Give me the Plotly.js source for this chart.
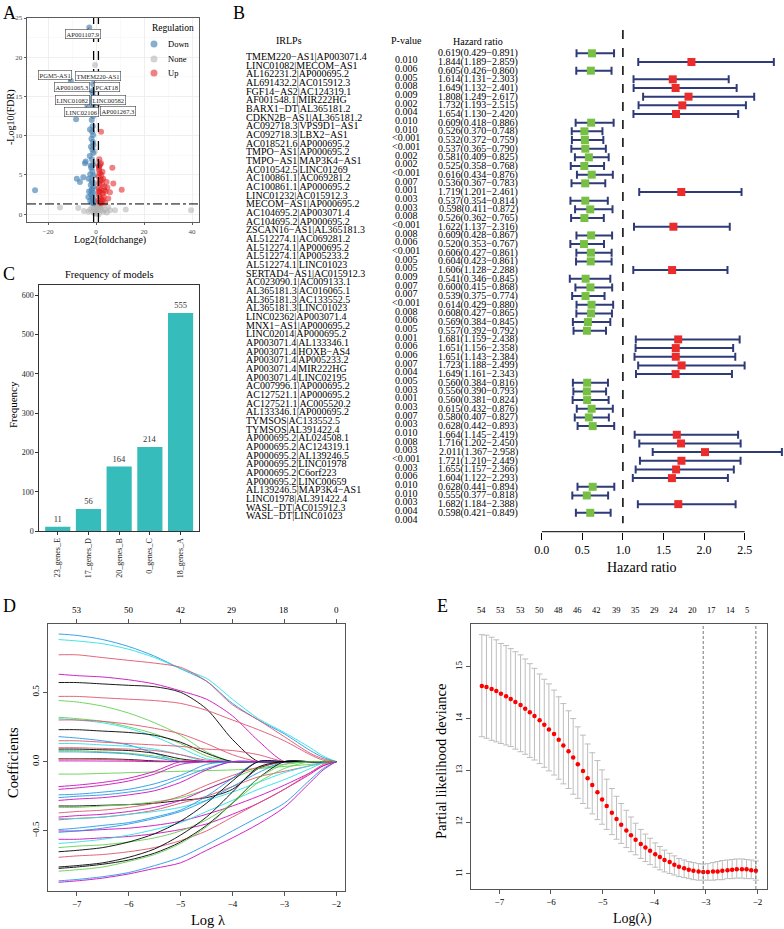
<!DOCTYPE html>
<html><head><meta charset="utf-8">
<script src="https://cdn.plot.ly/plotly-3.0.1.min.js"></script>
<style>html,body{margin:0;padding:0;background:#fff}#chart{width:784px;height:929px}</style>
</head><body><div id="chart"></div>
<script>
// ================= DATA =================
// A: volcano plot (Log2 fold change vs -Log10 FDR)
const downX = [-2.8,-10.5,-1.25,-1.5,-1.2,-1.6,-1.3,-1.3,-3.6,-8.3,-1.1,-1.4,-1.2,-1.8,-2.5,-1.4,-1.2,-1.9,-1.3,-2.1,-1.5,-1.2,-2.6,-1.7,-4.3,-4.6,-1.3,-2.0,-1.5,-2.4,-1.2,-8.0,-5.3,-6.7,-3.1,-1.8,-1.4,-2.2,-1.1,-25.4,-1.6,-2.9,-1.3,-2.0,-3.2,-1.5,-1.2,-2.4,-1.7,-1.1,-1.3,-2.2,-1.6,-1.1,-1.9];
const downY = [23.8,17.0,16.6,15.5,15.8,14.4,14.8,14.0,13.8,12.1,15.0,13.2,12.5,12.0,10.8,11.2,10.1,9.6,9.2,8.6,8.2,7.8,7.4,7.0,6.7,6.5,6.3,5.9,5.5,5.1,4.9,4.5,4.7,4.1,4.5,4.3,4.0,3.7,3.5,3.06,3.2,2.9,2.7,2.5,2.2,2.2,1.9,1.7,1.5,1.4,13.6,6.2,10.5,8.8,3.0];
const upX = [2.1,2.1,6.8,10.7,4.4,7.2,5.8,5.1,1.3,1.6,2.2,1.1,3.0,1.8,1.4,2.5,3.5,1.2,2.0,4.0,1.6,2.8,1.3,3.2,1.9,1.1,2.4,1.5,3.8,2.1,1.2,1.3,2.7,1.7,3.3,1.4,2.3,4.7,1.2,2.9];
const upY = [10.5,6.5,5.9,3.1,4.1,3.9,2.8,2.0,5.6,5.2,5.0,4.8,4.5,4.3,3.9,3.8,3.5,3.3,3.1,2.9,2.8,2.6,2.4,2.2,2.0,1.8,1.7,1.5,1.5,1.4,6.1,5.9,5.4,6.3,3.0,7.0,4.4,3.4,2.9,1.8];
const noneX = [-0.4,-15.0,-7.4,7.9,12.4,39.6,-0.5,0.3,-0.8,0.6,-0.2,0.1,-1.5,1.4,2.2,-2.4,3.0,-3.1,0.8,-0.7,4.5,-1.1,1.8,-0.3,0.4,-0.6,0.5,0.2,-0.5,0.7,-0.9,5.8,5.0,-5.0,1.1,-0.1,2.7,3.6];
const noneY = [19.0,0.85,0.8,0.5,0.6,0.5,1.2,1.0,0.8,0.6,0.4,0.2,0.9,0.7,0.5,0.6,0.3,0.3,1.1,0.1,0.2,0.3,1.0,2.5,3.2,5.0,4.0,6.5,8.0,1.5,1.6,0.5,0.9,0.4,0.0,0.05,1.1,0.6];
const labelGenes = ['AP001107.9','PGM5-AS1','TMEM220-AS1','AP001065.3','PCAT18','LINC01082','LINC00582','AP001267.3','LINC02106'];
const labelGeneX = [-2.8,-10.5,-1.25,-1.5,-1.2,-1.6,-1.3,-1.3,-3.6];
const labelGeneY = [23.8,17.0,16.6,15.5,15.8,14.4,14.8,14.0,13.8];
const fcCutoff = 1;
const fdrCutoff = 0.05;

// B: forest plot of IRLPs
const irlps = ['TMEM220−AS1|AP003071.4','LINC01082|MECOM−AS1','AL162231.2|AP000695.2','AL691432.2|AC015912.3','FGF14−AS2|AC124319.1','AF001548.1|MIR222HG','BARX1−DT|AL365181.2','CDKN2B−AS1|AL365181.2','AC092718.3|VPS9D1−AS1','AC092718.3|LBX2−AS1','AC018521.6|AP000695.2','TMPO−AS1|AP000695.2','TMPO−AS1|MAP3K4−AS1','AC010542.5|LINC01269','AC100861.1|AC069281.2','AC100861.1|AP000695.2','LINC01232|AC015912.3','MECOM−AS1|AP000695.2','AC104695.2|AP003071.4','AC104695.2|AP000695.2','ZSCAN16−AS1|AL365181.3','AL512274.1|AC069281.2','AL512274.1|AP000695.2','AL512274.1|AP005233.2','AL512274.1|LINC01023','SERTAD4−AS1|AC015912.3','AC023090.1|AC009133.1','AL365181.3|AC016065.1','AL365181.3|AC133552.5','AL365181.3|LINC01023','LINC02362|AP003071.4','MNX1−AS1|AP000695.2','LINC02014|AP000695.2','AP003071.4|AL133346.1','AP003071.4|HOXB−AS4','AP003071.4|AP005233.2','AP003071.4|MIR222HG','AP003071.4|LINC02195','AC007996.1|AP000695.2','AC127521.1|AP000695.2','AC127521.1|AC005520.2','AL133346.1|AP000695.2','TYMSOS|AC133552.5','TYMSOS|AL391422.4','AP000695.2|AL024508.1','AP000695.2|AC124319.1','AP000695.2|AL139246.5','AP000695.2|LINC01978','AP000695.2|C6orf223','AP000695.2|LINC00659','AL139246.5|MAP3K4−AS1','LINC01978|AL391422.4','WASL−DT|AC015912.3','WASL−DT|LINC01023'];
const pValues = ['0.010','0.006','0.005','0.008','0.009','0.002','0.004','0.010','0.010','<0.001','<0.001','0.002','0.002','<0.001','0.007','0.001','0.003','0.003','0.008','<0.001','0.008','0.006','<0.001','0.005','0.005','0.009','0.007','0.007','<0.001','0.008','0.006','0.005','0.001','0.006','0.006','0.007','0.004','0.005','0.003','0.001','0.003','0.007','0.003','0.010','0.008','0.003','<0.001','0.003','0.006','0.010','0.010','0.003','0.004','0.004'];
const hr = [0.619,1.844,0.605,1.614,1.649,1.808,1.732,1.654,0.609,0.526,0.532,0.537,0.581,0.525,0.616,0.536,1.719,0.537,0.598,0.526,1.622,0.609,0.520,0.606,0.604,1.606,0.541,0.600,0.539,0.614,0.608,0.569,0.557,1.681,1.651,1.651,1.723,1.649,0.560,0.556,0.560,0.615,0.580,0.628,1.664,1.716,2.011,1.721,1.655,1.604,0.628,0.555,1.682,0.598];
const hrLow = [0.429,1.189,0.426,1.131,1.132,1.249,1.193,1.130,0.418,0.370,0.372,0.365,0.409,0.358,0.434,0.367,1.201,0.354,0.411,0.362,1.137,0.428,0.353,0.427,0.423,1.128,0.346,0.415,0.375,0.429,0.427,0.384,0.392,1.159,1.156,1.143,1.188,1.161,0.384,0.390,0.381,0.432,0.407,0.442,1.145,1.202,1.367,1.210,1.157,1.122,0.441,0.377,1.184,0.421];
const hrHigh = [0.891,2.859,0.860,2.303,2.401,2.617,2.515,2.420,0.886,0.748,0.759,0.790,0.825,0.768,0.876,0.783,2.461,0.814,0.872,0.765,2.316,0.867,0.767,0.861,0.861,2.288,0.845,0.868,0.774,0.880,0.865,0.845,0.792,2.438,2.358,2.384,2.499,2.343,0.816,0.793,0.824,0.876,0.827,0.893,2.419,2.450,2.958,2.449,2.366,2.293,0.894,0.818,2.388,0.849];

// C: frequency of models
const models = ['23_genes_E','17_genes_D','20_genes_B','0_genes_C','18_genes_A'];
const modelFreq = [11,56,164,214,555];

// D: LASSO coefficient paths
const coefLogLambda = [-7.35,-7,-6.5,-6,-5.5,-5,-4.5,-4,-3.5,-3,-2.5,-2.25,-2];
const coefPaths = [
 [0.92,0.91,0.88,0.83,0.76,0.67,0.58,0.42,0.30,0.20,0.08,0.03,0],
 [0.88,0.87,0.85,0.81,0.75,0.67,0.60,0.45,0.31,0.21,0.10,0.04,0],
 [0.77,0.77,0.75,0.73,0.71,0.68,0.58,0.41,0.30,0.18,0.06,0.02,0],
 [0.63,0.62,0.61,0.59,0.56,0.51,0.45,0.33,0.15,0,0,0,0],
 [0.57,0.57,0.56,0.55,0.54,0.50,0.38,0.16,0,0,0,0,0],
 [0.47,0.47,0.46,0.45,0.44,0.42,0.37,0.30,0.23,0.15,0.05,0.01,0],
 [0.44,0.43,0.40,0.35,0.28,0.19,0.07,0,0,0,0,0,0],
 [0.32,0.31,0.29,0.25,0.20,0.13,0.04,0,0,0,0,0,0],
 [0.31,0.30,0.28,0.24,0.18,0.10,0.02,0,0,0,0,0,0],
 [0.30,0.30,0.29,0.27,0.24,0.20,0.13,0.05,0,0,0,0,0],
 [0.23,0.23,0.22,0.21,0.19,0.14,0.06,0,0,0,0,0,0],
 [0.18,0.17,0.15,0.12,0.06,0,0,0,0,0,0,0,0],
 [0.15,0.15,0.14,0.13,0.12,0.11,0.09,0.08,0.05,0,0,0,0],
 [0.13,0.13,0.12,0.11,0.09,0.05,0,0,0,0,0,0,0],
 [0.10,0.10,0.095,0.09,0.08,0.05,0.01,0,0,0,0,0,0],
 [0.09,0.09,0.085,0.08,0.06,0.02,0,0,0,0,0,0,0],
 [0.08,0.08,0.07,0.06,0.04,0.01,0,0,0,0,0,0,0],
 [0.07,0.07,0.065,0.055,0.03,0,0,0,0,0,0,0,0],
 [0.02,0.02,0.02,0.015,0.005,0,0,0,0,0,0,0,0],
 [0.02,0.02,0.015,0.01,0,0,0,0,0,0,0,0,0],
 [0.005,0.005,0.004,0.003,0,0,0,0,0,0,0,0,0],
 [-0.09,-0.09,-0.085,-0.08,-0.075,-0.07,-0.065,-0.06,-0.05,-0.035,-0.02,-0.01,0],
 [-0.18,-0.17,-0.15,-0.12,-0.07,0,0,0,0,0,0,0,0],
 [-0.20,-0.19,-0.17,-0.14,-0.09,-0.02,0,0,0,0,0,0,0],
 [-0.24,-0.235,-0.22,-0.20,-0.16,-0.10,-0.02,0,0,0,0,0,0],
 [-0.26,-0.25,-0.24,-0.22,-0.19,-0.12,-0.05,0,0,0,0,0,0],
 [-0.28,-0.27,-0.26,-0.24,-0.21,-0.15,-0.06,0,0,0,0,0,0],
 [-0.32,-0.32,-0.315,-0.31,-0.30,-0.28,-0.26,-0.20,-0.05,0,0,0,0],
 [-0.33,-0.33,-0.32,-0.31,-0.29,-0.26,-0.20,-0.12,-0.05,-0.02,0,0,0],
 [-0.37,-0.36,-0.35,-0.33,-0.30,-0.25,-0.17,-0.10,-0.04,0,0,0,0],
 [-0.40,-0.39,-0.38,-0.36,-0.33,-0.28,-0.20,-0.12,0,0,0,0,0],
 [-0.42,-0.41,-0.40,-0.38,-0.35,-0.30,-0.25,-0.18,-0.11,-0.07,-0.03,-0.01,0],
 [-0.41,-0.41,-0.40,-0.38,-0.36,-0.33,-0.28,-0.22,-0.15,-0.08,-0.03,-0.01,0],
 [-0.49,-0.48,-0.46,-0.44,-0.40,-0.35,-0.25,-0.12,0,0,0,0,0],
 [-0.50,-0.50,-0.49,-0.48,-0.46,-0.43,-0.38,-0.32,-0.25,-0.17,-0.08,-0.03,0],
 [-0.51,-0.50,-0.48,-0.45,-0.41,-0.36,-0.28,-0.18,-0.08,0,0,0,0],
 [-0.56,-0.56,-0.55,-0.54,-0.52,-0.49,-0.45,-0.38,-0.30,-0.20,-0.09,-0.03,0],
 [-0.59,-0.58,-0.56,-0.53,-0.49,-0.44,-0.36,-0.28,-0.20,-0.13,-0.05,-0.01,0],
 [-0.62,-0.61,-0.60,-0.58,-0.55,-0.50,-0.42,-0.30,-0.15,-0.05,0,0,0],
 [-0.65,-0.64,-0.62,-0.58,-0.52,-0.43,-0.30,-0.14,0,0,0,0,0],
 [-0.69,-0.68,-0.67,-0.65,-0.62,-0.57,-0.50,-0.40,-0.30,-0.20,-0.08,-0.02,0],
 [-0.76,-0.75,-0.73,-0.69,-0.63,-0.53,-0.40,-0.22,-0.04,0,0,0,0],
 [-0.77,-0.76,-0.74,-0.71,-0.66,-0.58,-0.46,-0.30,-0.12,0,0,0,0],
 [-0.79,-0.78,-0.76,-0.72,-0.67,-0.59,-0.47,-0.30,-0.12,-0.02,0,0,0],
 [-0.86,-0.85,-0.83,-0.80,-0.75,-0.69,-0.60,-0.50,-0.40,-0.30,-0.13,-0.05,0],
 [-0.87,-0.86,-0.84,-0.81,-0.77,-0.73,-0.64,-0.55,-0.45,-0.33,-0.15,-0.06,0]
];
const dTopLambda = [-7,-6,-5,-4,-3,-2];
const dTopCount = ['53','50','42','29','18','0'];

// E: cross-validation curve
const cvLogLambda = [-7.34,-7.25,-7.15,-7.06,-6.97,-6.87,-6.78,-6.69,-6.59,-6.50,-6.41,-6.32,-6.22,-6.13,-6.04,-5.94,-5.85,-5.76,-5.66,-5.57,-5.48,-5.38,-5.29,-5.20,-5.10,-5.01,-4.92,-4.82,-4.73,-4.64,-4.54,-4.45,-4.36,-4.26,-4.17,-4.08,-3.98,-3.89,-3.80,-3.70,-3.61,-3.52,-3.42,-3.33,-3.24,-3.14,-3.05,-2.96,-2.86,-2.77,-2.68,-2.58,-2.49,-2.40,-2.30,-2.21,-2.12,-2.03];
const cvMean = [14.63,14.61,14.57,14.53,14.48,14.43,14.38,14.32,14.26,14.19,14.12,14.05,13.97,13.88,13.79,13.70,13.59,13.48,13.37,13.25,13.12,12.99,12.85,12.72,12.58,12.44,12.31,12.18,12.06,11.95,11.84,11.75,11.66,11.58,11.51,11.45,11.38,11.33,11.27,11.23,11.18,11.14,11.11,11.08,11.06,11.05,11.04,11.04,11.05,11.05,11.06,11.07,11.08,11.09,11.09,11.09,11.07,11.06];
const cvUpper = [15.62,15.61,15.57,15.52,15.45,15.41,15.35,15.29,15.23,15.15,15.06,14.97,14.86,14.76,14.67,14.55,14.42,14.29,14.15,14.00,13.84,13.68,13.51,13.34,13.19,13.01,12.83,12.65,12.50,12.36,12.23,12.10,11.98,11.86,11.77,11.69,11.60,11.53,11.46,11.40,11.35,11.30,11.27,11.24,11.22,11.20,11.19,11.20,11.22,11.24,11.26,11.27,11.28,11.29,11.29,11.28,11.27,11.25];
const cvLower = [13.65,13.62,13.58,13.55,13.52,13.49,13.46,13.41,13.36,13.31,13.25,13.20,13.13,13.06,12.99,12.91,12.83,12.74,12.65,12.54,12.46,12.36,12.27,12.16,12.05,11.96,11.86,11.76,11.67,11.59,11.51,11.43,11.37,11.30,11.24,11.18,11.13,11.08,11.04,11.01,10.98,10.95,10.93,10.91,10.89,10.88,10.88,10.88,10.88,10.89,10.89,10.91,10.91,10.92,10.92,10.91,10.91,10.88];
const eTopLambda = [-7.34,-6.97,-6.60,-6.23,-5.86,-5.49,-5.11,-4.74,-4.37,-4.00,-3.63,-3.25,-2.89,-2.52,-2.20];
const eTopCount = ['54','53','53','50','48','46','42','39','35','29','24','20','17','14','5'];
const logLambdaMin = -3.05;
const logLambda1se = -2.03;

// ================= STYLE / LAYOUT =================
const W = 784, H = 929;
const fx = v => v / W;
const fy = v => 1 - v / H;
const SERIF = 'Liberation Serif, Times New Roman, serif';
const C_DOWN = 'rgba(70,130,180,0.65)', C_UP = 'rgba(228,26,28,0.55)', C_NONE = 'rgba(175,175,175,0.55)';
const R_PAL = {k:'#000000', r:'#DF536B', g:'#61D04F', b:'#2297E6', c:'#28E2E5', m:'#CD0BBC'};
const pathColorKeys = ['b','c','r','m','k','r','g','g','c','r','k','b','r','c','r','k','g','b','k','r','m',
  'g','m','m','b','b','m','k','g','r','m','r','c','b','m','b','m','c','g','k','r','k','k','g','b','m'];

const traces = [];
// A
traces.push({type:'scatter', mode:'markers', x:noneX, y:noneY, xaxis:'x', yaxis:'y', name:'None',
  marker:{color:C_NONE, size:6, line:{width:0}}, hoverinfo:'skip'});
traces.push({type:'scatter', mode:'markers', x:downX, y:downY, xaxis:'x', yaxis:'y', name:'Down',
  marker:{color:C_DOWN, size:6, line:{width:0}}});
traces.push({type:'scatter', mode:'markers', x:upX, y:upY, xaxis:'x', yaxis:'y', name:'Up',
  marker:{color:C_UP, size:6, line:{width:0}}});
// C
traces.push({type:'bar', x:models, y:modelFreq, xaxis:'x2', yaxis:'y2', marker:{color:'#37BCBC'},
  text:modelFreq.map(String), textposition:'outside', textfont:{size:8.5, color:'#333', family:SERIF}, cliponaxis:false});
// B forest
const rows = irlps.map((_, i) => i + 1);
function forestTrace(sel, color){
  const idx = rows.map(r => r - 1).filter(sel);
  return {type:'scatter', mode:'markers', xaxis:'x3', yaxis:'y3', cliponaxis:false,
    x: idx.map(i => hr[i]), y: idx.map(i => rows[i]),
    error_x:{type:'data', symmetric:false, array: idx.map(i => hrHigh[i] - hr[i]), arrayminus: idx.map(i => hr[i] - hrLow[i]),
      color:'#2F3A78', thickness:2, width:4},
    marker:{symbol:'square', size:8, color:color, line:{width:0}}};
}
traces.push(forestTrace(i => hr[i] < 1, '#77C043'));
traces.push(forestTrace(i => hr[i] >= 1, '#EC2B2B'));
// D
coefPaths.forEach((p, k) => {
  traces.push({type:'scatter', mode:'lines', x:coefLogLambda, y:p, xaxis:'x4', yaxis:'y4',
    line:{color:R_PAL[pathColorKeys[k % pathColorKeys.length]], width:0.9, shape:'spline', smoothing:0.8}, hoverinfo:'skip'});
});
// E
traces.push({type:'scatter', mode:'markers', x:cvLogLambda, y:cvMean, xaxis:'x5', yaxis:'y5',
  error_y:{type:'data', symmetric:false, array: cvUpper.map((u, i) => u - cvMean[i]), arrayminus: cvLower.map((l, i) => cvMean[i] - l),
    color:'#BDBDBD', thickness:1, width:3},
  marker:{color:'#FF0000', size:4.5}});

const ax = (o) => Object.assign({showgrid:false, zeroline:false, ticks:'outside', tickcolor:'#333', linecolor:'#333',
  tickfont:{family:SERIF, size:9, color:'#000'}}, o);

const shapes = [];
// A thresholds
[-fcCutoff, fcCutoff].forEach(v => shapes.push({type:'line', xref:'x', yref:'y domain', x0:v, x1:v, y0:0, y1:1,
  line:{color:'#000', width:1.3, dash:'dash'}}));
shapes.push({type:'line', xref:'x domain', yref:'y', x0:0, x1:1, y0:-Math.log10(fdrCutoff), y1:-Math.log10(fdrCutoff),
  line:{color:'#000', width:1, dash:'dashdot'}});
// A legend keys
[[44, C_DOWN], [59, C_NONE], [73, C_UP]].forEach(([yy, c]) => shapes.push({type:'circle', xref:'paper', yref:'paper',
  x0:fx(150.5), x1:fx(157.5), y0:fy(yy + 3.5), y1:fy(yy - 3.5), fillcolor:c, line:{width:0}}));
// B reference line + axis line
shapes.push({type:'line', xref:'x3', yref:'y3', x0:1, x1:1, y0:-1.69, y1:55.2, line:{color:'#000', width:1.5, dash:'dash'}});
shapes.push({type:'line', xref:'x3', yref:'paper', x0:0, x1:2.5, y0:fy(531.7), y1:fy(531.7), line:{color:'#000', width:1}});
// E lambda lines
[logLambdaMin, logLambda1se].forEach(v => shapes.push({type:'line', xref:'x5', yref:'y5 domain', x0:v, x1:v, y0:0, y1:1,
  line:{color:'#555', width:0.8, dash:'3px,2px'}}));

const annotations = [];
const txt = (text, x, y, size, extra) => annotations.push(Object.assign({text, x:fx(x), y:fy(y), xref:'paper', yref:'paper',
  xanchor:'center', yanchor:'middle', showarrow:false, font:{family:SERIF, size, color:'#000'}}, extra || {}));
// panel letters
txt('A', 9, 13, 18); txt('B', 239, 13, 18); txt('C', 9, 274, 18); txt('D', 9, 606, 18); txt('E', 442, 606, 18);
// A titles & legend
txt('Log2(foldchange)', 110, 240, 10);
txt('-Log10(FDR)', 11, 117, 10, {textangle:-90});
txt('Regulation', 150, 28, 9.5, {xanchor:'left'});
txt('Down', 166, 44, 8.5, {xanchor:'left'}); txt('None', 166, 59, 8.5, {xanchor:'left'}); txt('Up', 166, 73, 8.5, {xanchor:'left'});
// A gene labels (label box positions in data units)
const labelBoxPos = [[-5.4,22.9],[-17.1,17.7],[0.8,17.6],[-10,16.2],[4.6,16.2],[-9.6,14.6],[5.4,14.6],[9.2,13.2],[-6.25,13.0]];
labelGenes.forEach((g, i) => annotations.push({text:g, x:labelGeneX[i], y:labelGeneY[i], xref:'x', yref:'y',
  ax:labelBoxPos[i][0], ay:labelBoxPos[i][1], axref:'x', ayref:'y', showarrow:true, arrowhead:0, arrowwidth:0.6,
  arrowcolor:'#333', standoff:0, font:{family:SERIF, size:6.5, color:'#222'}, bgcolor:'#fff', bordercolor:'#444',
  borderwidth:0.6, borderpad:1}));
// C titles
txt('Frequency of models', 110, 274, 10.5);
txt('Frequency', 13, 405, 11, {textangle:-90});
// B table
txt('IRLPs', 289, 40, 10); txt('P-value', 406, 40, 10); txt('Hazard ratio', 478, 41, 10);
irlps.forEach((n, i) => {
  annotations.push({text:n, x:fx(244), xref:'paper', y:rows[i] + 0.35, yref:'y3', xanchor:'left', yanchor:'middle', showarrow:false,
    font:{family:SERIF, size:10, color:'#000'}});
  annotations.push({text:pValues[i], x:fx(406), xref:'paper', y:rows[i] + 0.75, yref:'y3', xanchor:'center', yanchor:'middle', showarrow:false,
    font:{family:SERIF, size:10, color:'#000'}});
  annotations.push({text:hr[i].toFixed(3) + '(' + hrLow[i].toFixed(3) + '−' + hrHigh[i].toFixed(3) + ')', x:fx(478), xref:'paper',
    y:rows[i], yref:'y3', xanchor:'center', yanchor:'middle', showarrow:false, font:{family:SERIF, size:10, color:'#000'}});
});
txt('Hazard ratio', 642, 567, 14);
// D titles
txt('Log λ', 208, 920, 14.5);
txt('Coefficients', 13, 763, 14.5, {textangle:-90});
dTopLambda.forEach((v, i) => annotations.push({text:dTopCount[i], x:v, xref:'x4', y:fy(609.5), yref:'paper', xanchor:'center', yanchor:'middle',
  showarrow:false, font:{family:SERIF, size:9, color:'#000'}}));
// E titles
txt('Log(λ)', 632, 919, 14);
txt('Partial likelihood deviance', 441, 762, 14.5, {textangle:-90});
eTopLambda.forEach((v, i) => annotations.push({text:eTopCount[i], x:v, xref:'x5', y:fy(609.5), yref:'paper', xanchor:'center', yanchor:'middle',
  showarrow:false, font:{family:SERIF, size:8.5, color:'#000'}}));

const layout = {
  width:W, height:H, margin:{l:0, r:0, t:0, b:0}, paper_bgcolor:'#fff', plot_bgcolor:'#fff', showlegend:false,
  font:{family:SERIF, color:'#000'}, bargap:0.18,
  xaxis: ax({domain:[fx(27), fx(199)], anchor:'y', range:[-28.75, 42.9], tick0:0, dtick:20, ticklen:2.5, tickwidth:0.8,
    tickfont:{family:SERIF, size:7, color:'#4d4d4d'}, showgrid:true, gridcolor:'#EBEBEB', gridwidth:0.8,
    minor:{dtick:10, showgrid:true, gridcolor:'#F4F4F4', gridwidth:0.5}, showline:true, mirror:true, linewidth:0.8}),
  yaxis: ax({domain:[fy(222), fy(18)], anchor:'x', range:[-1, 25], tick0:0, dtick:5, ticklen:2.5, tickwidth:0.8,
    tickfont:{family:SERIF, size:7, color:'#4d4d4d'}, showgrid:true, gridcolor:'#EBEBEB', gridwidth:0.8,
    minor:{dtick:2.5, showgrid:true, gridcolor:'#F4F4F4', gridwidth:0.5}, showline:true, mirror:true, linewidth:0.8}),
  xaxis2: ax({domain:[fx(39.3), fx(199)], anchor:'y2', type:'category', range:[-0.6, 4.6], tickangle:-90, ticklen:3,
    tickfont:{family:SERIF, size:8, color:'#222'}, showline:true, mirror:true, linewidth:1}),
  yaxis2: ax({domain:[fy(531), fy(285)], anchor:'x2', range:[0, 626], dtick:100, ticklen:3,
    tickfont:{family:SERIF, size:8, color:'#222'}, showline:true, mirror:true, linewidth:1}),
  xaxis3: ax({domain:[fx(541.7), 1], anchor:'y3', range:[0, 2.984], tickvals:[0,0.5,1,1.5,2,2.5],
    ticktext:['0.0','0.5','1.0','1.5','2.0','2.5'], ticklen:7, tickwidth:1, tickcolor:'#000',
    tickfont:{family:SERIF, size:12, color:'#000'}, showline:false}),
  yaxis3: {domain:[fy(531.7), fy(30)], anchor:'x3', range:[56.18, -1.69], visible:false},
  xaxis4: ax({domain:[fx(47.7), fx(345)], anchor:'y4', range:[-7.56, -1.83], tickvals:[-7,-6,-5,-4,-3,-2], ticklen:4,
    showline:true, mirror:'ticks', linecolor:'#555', tickcolor:'#555', linewidth:1}),
  yaxis4: ax({domain:[fy(891), fy(624.3)], anchor:'x4', range:[-0.933, 0.99], tickvals:[-0.5,0,0.5],
    ticktext:['−0.5','0.0','0.5'], tickangle:-90, ticklen:4, showline:true, mirror:true, linecolor:'#555', tickcolor:'#555', linewidth:1}),
  xaxis5: ax({domain:[fx(471), fx(766.7)], anchor:'y5', range:[-7.55, -1.82], tickvals:[-7,-6,-5,-4,-3,-2], ticklen:4,
    showline:true, mirror:true, linecolor:'#555', tickcolor:'#555', linewidth:1}),
  yaxis5: ax({domain:[fy(889), fy(624.3)], anchor:'x5', range:[10.71, 15.82], tickvals:[11,12,13,14,15], tickangle:-90,
    ticklen:4, showline:true, mirror:true, linecolor:'#555', tickcolor:'#555', linewidth:1}),
  shapes, annotations
};

Plotly.newPlot('chart', traces, layout, {staticPlot:true, displayModeBar:false});
</script></body></html>
